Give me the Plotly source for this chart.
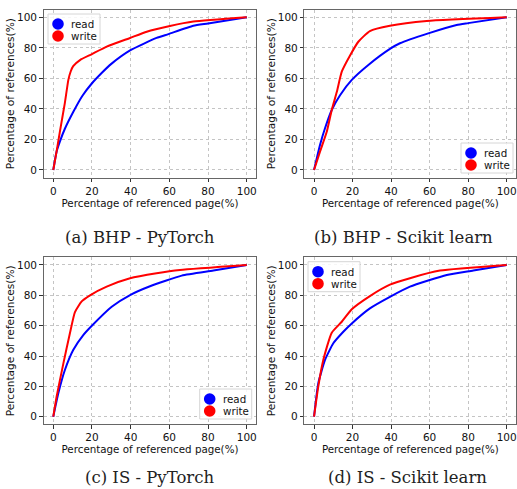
import plotly.graph_objects as go

# ---------------- data ----------------
a_read_x = [0, 1.7, 3.4, 6, 10.3, 15, 19.8, 25, 30, 39.7, 53.4, 59.5, 72.4, 80, 100]
a_read_y = [0, 12, 18.6, 27, 38, 48.5, 56.5, 63.5, 69.5, 78.3, 86.5, 89, 94.5, 96, 100]
a_write_x = [0, 1.7, 3.4, 6, 7.8, 9, 10.3, 13.8, 19.8, 27.6, 39.7, 48.3, 60.3, 72.4, 100]
a_write_y = [0, 12, 25, 44, 59, 64.5, 68, 72, 75.8, 80.8, 86.5, 90.6, 94.3, 97.2, 100]

b_read_x = [0, 3.1, 5.7, 9.2, 13.5, 19.6, 28.2, 39.4, 44.6, 59.3, 74, 80, 100]
b_read_y = [0, 16.4, 27.3, 39.3, 49, 59, 68.8, 79.3, 83, 89.5, 95, 96.2, 100]
b_write_x = [0, 3.1, 6.6, 9.2, 11.8, 14.4, 18.7, 23, 29, 39.4, 58.5, 100]
b_write_y = [0, 12, 25, 39.3, 51, 64.4, 75, 84, 91, 94.5, 97.6, 100]

c_read_x = [0, 2.6, 6, 10.3, 15.5, 19.8, 30.2, 39.7, 50, 66.4, 82.8, 100]
c_read_y = [0, 15.4, 30.8, 44, 53.8, 59.8, 72.5, 80.2, 86, 93, 96.3, 100]
c_write_x = [0, 1.7, 5.2, 8.6, 11.2, 14.7, 19, 27.6, 39.7, 53.4, 65.5, 100]
c_write_y = [0, 13, 35, 55, 69, 76, 80, 85.7, 91.2, 94.5, 96.7, 100]

d_read_x = [0, 2.2, 5.7, 10, 15.2, 19.6, 29, 39.4, 49.8, 68.9, 82.7, 100]
d_read_y = [0, 22, 37.4, 48.4, 56, 61.5, 71.4, 79, 85.7, 93.4, 96.3, 100]
d_write_x = [0, 2.2, 4.8, 9.2, 14.4, 19.6, 29, 39.4, 49.8, 65.4, 100]
d_write_y = [0, 19.8, 37.4, 55.4, 62.6, 70.8, 79.5, 87, 91.3, 96.3, 100]

series_names = ["read", "write"]
series_colors = ["#0000ff", "#ff0000"]
captions = ["(a) BHP - PyTorch", "(b) BHP - Scikit learn",
            "(c) IS - PyTorch", "(d) IS - Scikit learn"]
tick_vals = [0, 20, 40, 60, 80, 100]
x_title = "Percentage of referenced page(%)"
y_title = "Percentage of references(%)"

panels = [
    (a_read_x, a_read_y, a_write_x, a_write_y),
    (b_read_x, b_read_y, b_write_x, b_write_y),
    (c_read_x, c_read_y, c_write_x, c_write_y),
    (d_read_x, d_read_y, d_write_x, d_write_y),
]

# ---------------- layout geometry (pixels) ----------------
W, H = 517, 489
x_doms_px = [(43.6, 256.4), (304.4, 516.3), (43.6, 256.4), (304.4, 516.3)]
y_doms_px = [(9.7, 177.6), (9.7, 177.6), (257.4, 424.3), (257.4, 424.3)]
legend_box_px = [(48, 14), (461, 143), (199.7, 389), (308, 261.7)]  # left, top
LEG_W, LEG_H = 52, 30
caption_pos = [(140, 238, "middle"), (403, 238, "middle"),
               (149, 489, "bottom"), (407, 489, "bottom")]


def px(xp):
    return xp / W


def py(yp):
    return 1 - yp / H


fig = go.Figure()
layout = dict(
    width=W, height=H, margin=dict(l=0, r=0, t=0, b=0),
    paper_bgcolor="white", plot_bgcolor="white",
    font=dict(family="DejaVu Sans", color="#111111"),
    showlegend=False,
)
shapes = []
annotations = []

for i, (rx, ry, wx, wy) in enumerate(panels):
    n = "" if i == 0 else str(i + 1)
    xa, ya = "x" + n, "y" + n
    for (sx, sy), name, col in zip([(rx, ry), (wx, wy)], series_names, series_colors):
        fig.add_trace(go.Scatter(
            x=sx, y=sy, mode="lines", name=name,
            line=dict(color=col, width=2, shape="spline", smoothing=0.5),
            xaxis=xa, yaxis=ya, hoverinfo="skip"))
    x0, x1 = x_doms_px[i]
    y0, y1 = y_doms_px[i]
    common = dict(
        range=[-5, 105], tickvals=tick_vals, ticks="outside", ticklen=3.5, tickwidth=1,
        tickcolor="#333333", tickfont=dict(size=10.5, family="DejaVu Sans", color="#111111"),
        showline=True, mirror=True, linecolor="#666666", linewidth=1,
        showgrid=True, gridcolor="#c4c4c4", griddash="dot", gridwidth=0.8,
        zeroline=False, fixedrange=True,
    )
    layout["xaxis" + n] = dict(common, domain=[px(x0), px(x1)], anchor=ya,
                               title=dict(text=x_title, font=dict(size=10.3), standoff=3))
    layout["yaxis" + n] = dict(common, domain=[py(y1), py(y0)], anchor=xa,
                               title=dict(text=y_title, font=dict(size=10.6), standoff=0))

    # legend (box, circle markers, labels) in paper coordinates
    bl, bt = legend_box_px[i]
    shapes.append(dict(type="rect", xref="paper", yref="paper", layer="above",
                       x0=px(bl), x1=px(bl + LEG_W), y0=py(bt + LEG_H), y1=py(bt),
                       line=dict(color="#d6d6d6", width=1),
                       fillcolor="rgba(255,255,255,0.85)"))
    for k, (name, col) in enumerate(zip(series_names, series_colors)):
        cy = bt + 10 + 12 * k
        shapes.append(dict(type="circle", xref="paper", yref="paper", layer="above",
                           xsizemode="pixel", ysizemode="pixel",
                           xanchor=px(bl + 10), yanchor=py(cy),
                           x0=-5.8, x1=5.8, y0=-5.8, y1=5.8,
                           fillcolor=col, line=dict(color=col, width=0)))
        annotations.append(dict(text=name, x=px(bl + 21), y=py(cy), xref="paper", yref="paper",
                                xanchor="left", yanchor="middle", showarrow=False,
                                font=dict(size=10.3, family="DejaVu Sans", color="#111111")))

    cx, cy, yan = caption_pos[i]
    annotations.append(dict(
        text=captions[i], x=px(cx), y=py(cy), xref="paper", yref="paper",
        xanchor="center", yanchor=yan, showarrow=False,
        font=dict(family="DejaVu Serif", size=16.5, color="#222222")))

layout["shapes"] = shapes
layout["annotations"] = annotations
fig.update_layout(**layout)
fig.write_html("out.html")
